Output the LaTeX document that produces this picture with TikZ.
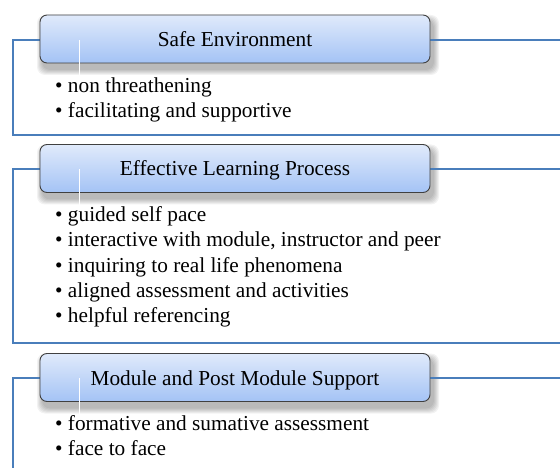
\documentclass[tikz,border=0pt]{standalone}
\usepackage{fontspec}
\setmainfont{Liberation Serif}
\definecolor{frameblue}{HTML}{4A7EBB}
\definecolor{boxtop}{HTML}{E0EAFB}
\definecolor{boxbot}{HTML}{A4C3F5}
\definecolor{boxborder}{HTML}{404040}
\begin{document}
\begin{tikzpicture}[x=1pt,y=-1pt,
  titlebox/.style={draw=boxborder, line width=0.9pt, rounded corners=7pt,
    top color=boxtop, bottom color=boxbot, minimum width=390pt, minimum height=48pt,
    inner sep=0pt, text height=15pt, text depth=0pt,
    font=\fontsize{21.3}{25}\selectfont},
  item/.style={anchor=base west, inner sep=0pt, font=\fontsize{21.3}{25}\selectfont},
  frameline/.style={draw=frameblue, line width=2.2pt},
  hairline/.style={draw=white, line width=0.8pt}]
\useasboundingbox (0,0) rectangle (560,468);
% shadows
\foreach \yy in {39,168.5,377.5} {
  \foreach \i in {1,...,6} {
    \fill[black, opacity=0.05, rounded corners=8pt]
      (43-\i, \yy-18-\i) rectangle (433+\i, \yy+30+\i);
  }
}
% free ends
\coordinate (e1) at (560,40);
\coordinate (c1) at (560,135);
\coordinate (e2) at (560,169);
\coordinate (c2) at (560,343);
\coordinate (e3) at (560,378);
\coordinate (c3) at (13,468);
% frames
\draw[frameline] (40,40) -- (13,40) |- (c1);
\draw[frameline] (430,40) -- (e1);
\draw[frameline] (40,169) -- (13,169) |- (c2);
\draw[frameline] (430,169) -- (e2);
\draw[frameline] (40,378) -- (13,378) -- (c3);
\draw[frameline] (430,378) -- (e3);
% boxes
\node[titlebox] (b1) at (235,39) {Safe Environment};
\node[titlebox] (b2) at (235,168.5) {Effective Learning Process};
\node[titlebox] (b3) at (235,377.5) {Module and Post Module Support};
% hairlines
\draw[hairline] (79,40) -- (79,77);
\draw[hairline] (79,169) -- (79,206);
\draw[hairline] (79,378) -- (79,415);
% items
\node[item] (i11) at (55,93) {•~non threathening};
\node[item] (i12) at (55,118) {•~facilitating and supportive};
\node[item] (i21) at (55,222) {•~guided self pace};
\node[item] (i22) at (55,247) {•~interactive with module, instructor and peer};
\node[item] (i23) at (55,272) {•~inquiring to real life phenomena};
\node[item] (i24) at (55,297) {•~aligned assessment and activities};
\node[item] (i25) at (55,322) {•~helpful referencing};
\node[item] (i31) at (55,430) {•~formative and sumative assessment};
\node[item] (i32) at (55,455) {•~face to face};
\end{tikzpicture}
\end{document}
